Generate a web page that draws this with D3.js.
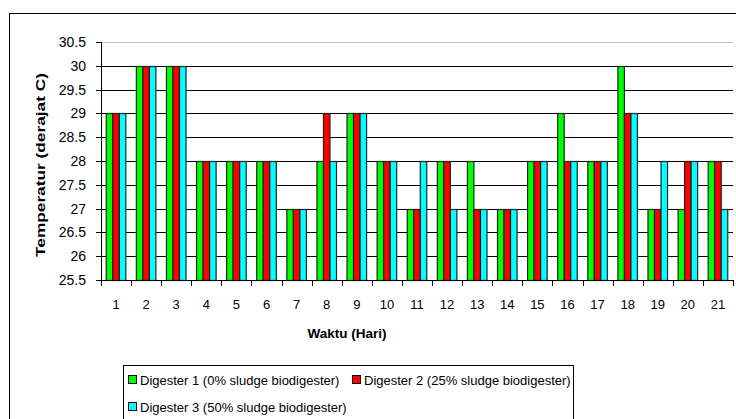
<!DOCTYPE html>
<html>
<head>
<meta charset="utf-8">
<script src="https://cdn.jsdelivr.net/npm/d3@7"></script>
<style>
  body { margin: 0; background: #fff; }
</style>
</head>
<body>
<div id="chart"></div>
<script>
var days = ["1","2","3","4","5","6","7","8","9","10","11","12","13","14","15","16","17","18","19","20","21"];
var digester1 = [29,30,30,28,28,28,27,28,29,28,27,28,28,27,28,29,28,30,27,27,28];
var digester2 = [29,30,30,28,28,28,27,29,29,28,27,28,27,27,28,28,28,29,27,28,28];
var digester3 = [29,30,30,28,28,28,27,28,29,28,28,27,27,27,28,28,28,29,28,28,27];
var seriesNames = ["Digester 1 (0% sludge biodigester)", "Digester 2 (25% sludge biodigester)", "Digester 3 (50% sludge biodigester)"];
var seriesColors = ["#00ff00", "#ff0000", "#00ffff"];
var yTicks = [25.5,26,26.5,27,27.5,28,28.5,29,29.5,30,30.5];

var plotLeft = 101, plotRight = 733, plotTop = 42, plotBottom = 280;
var font = "Liberation Sans, Arial, sans-serif";

var svg = d3.select("#chart").append("svg")
    .attr("width", 736)
    .attr("height", 419);

var series = [digester1, digester2, digester3];

var x0 = d3.scaleBand()
    .domain(days)
    .range([plotLeft, plotRight])
    .paddingInner(0.35)
    .paddingOuter(0.175);

var x1 = d3.scaleBand()
    .domain([0, 1, 2])
    .range([0, x0.bandwidth()]);

var y = d3.scaleLinear()
    .domain([25.5, 30.5])
    .range([plotBottom, plotTop]);

// grid lines
svg.append("g").selectAll("rect")
    .data(yTicks)
    .enter().append("rect")
    .attr("x", plotLeft)
    .attr("y", function(d) { return Math.round(y(d)); })
    .attr("width", plotRight - plotLeft)
    .attr("height", 1)
    .attr("fill", function(d) { return d == 30.5 ? "#c0c0c0" : "#000"; });

// bars
var groups = svg.append("g").selectAll("g")
    .data(days)
    .enter().append("g")
    .attr("transform", function(d) { return "translate(" + x0(d) + ",0)"; });

groups.selectAll("rect")
    .data(function(d, i) { return series.map(function(s, k) { return {k: k, v: s[i]}; }); })
    .enter().append("rect")
    .attr("x", function(d) { return x1(d.k); })
    .attr("y", function(d) { return Math.round(y(d.v)) + 0.5; })
    .attr("width", x1.bandwidth())
    .attr("height", function(d) { return y(25.5) - Math.round(y(d.v)); })
    .attr("fill", function(d) { return seriesColors[d.k]; })
    .attr("stroke", "#222")
    .attr("stroke-width", 1.2);

// outer chart border (top and left edges are the visible part)
svg.append("rect").attr("x", 9).attr("y", 13).attr("width", 727).attr("height", 1).attr("fill", "#000");
svg.append("rect").attr("x", 9).attr("y", 13).attr("width", 1).attr("height", 406).attr("fill", "#000");

// y axis
svg.append("rect").attr("x", plotLeft).attr("y", plotTop).attr("width", 1).attr("height", plotBottom - plotTop + 1).attr("fill", "#000");
svg.append("g").selectAll("rect")
    .data(yTicks)
    .enter().append("rect")
    .attr("x", plotLeft - 5)
    .attr("y", function(d) { return Math.round(y(d)); })
    .attr("width", 5).attr("height", 1)
    .attr("fill", "#000");
svg.append("g").selectAll("text")
    .data(yTicks)
    .enter().append("text")
    .attr("x", 86)
    .attr("y", function(d) { return y(d) + 5; })
    .attr("text-anchor", "end")
    .attr("font-family", font)
    .attr("font-size", 14)
    .text(function(d) { return d; });

// x axis
svg.append("rect").attr("x", plotLeft).attr("y", plotBottom).attr("width", plotRight - plotLeft).attr("height", 1).attr("fill", "#000");
svg.append("g").selectAll("rect")
    .data(d3.range(days.length + 1))
    .enter().append("rect")
    .attr("x", function(i) { return Math.round(plotLeft + i * x0.step()); })
    .attr("y", plotBottom)
    .attr("width", 1).attr("height", 6)
    .attr("fill", "#000");
svg.append("g").selectAll("text")
    .data(days)
    .enter().append("text")
    .attr("x", function(d) { return x0(d) + x0.bandwidth() / 2; })
    .attr("y", 309)
    .attr("text-anchor", "middle")
    .attr("font-family", font)
    .attr("font-size", 13)
    .text(function(d) { return d; });

// axis titles
svg.append("text")
    .attr("transform", "translate(45,165) rotate(-90)")
    .attr("text-anchor", "middle")
    .attr("font-family", font)
    .attr("font-size", 13.5)
    .attr("font-weight", "bold")
    .attr("textLength", 184)
    .attr("lengthAdjust", "spacingAndGlyphs")
    .text("Temperatur (derajat C)");

svg.append("text")
    .attr("x", 347)
    .attr("y", 338)
    .attr("text-anchor", "middle")
    .attr("font-family", font)
    .attr("font-size", 13.5)
    .attr("font-weight", "bold")
    .text("Waktu (Hari)");

// legend
var legend = svg.append("g");
legend.append("rect")
    .attr("x", 123.5).attr("y", 365.5)
    .attr("width", 450).attr("height", 70)
    .attr("fill", "#fff").attr("stroke", "#000");

var legendPos = [[128, 380], [352, 380], [128, 407]];
var items = legend.selectAll(".item")
    .data(seriesNames)
    .enter().append("g")
    .attr("class", "item")
    .attr("transform", function(d, i) { return "translate(" + legendPos[i][0] + "," + legendPos[i][1] + ")"; });
items.append("rect")
    .attr("x", 0.5).attr("y", -4.5)
    .attr("width", 8).attr("height", 8)
    .attr("fill", function(d, i) { return seriesColors[i]; })
    .attr("stroke", "#000");
items.append("text")
    .attr("x", 12)
    .attr("y", 4.5)
    .attr("font-family", font)
    .attr("font-size", 13)
    .text(function(d) { return d; });
</script>
</body>
</html>
